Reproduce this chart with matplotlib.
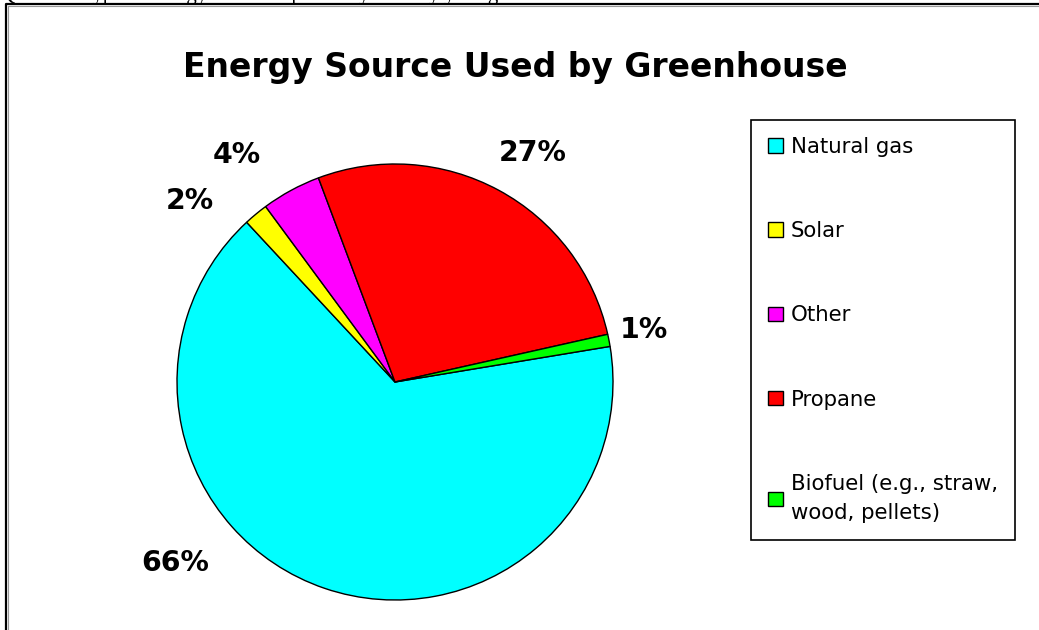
import matplotlib
matplotlib.use('Agg')
import matplotlib.pyplot as plt
from matplotlib.lines import Line2D

# data
sources = ["Natural gas", "Solar", "Other", "Propane",
           "Biofuel (e.g., straw,\nwood, pellets)"]
shares = [65.7, 1.8, 4.4, 27.2, 0.9]
colors = ["#00FFFF", "#FFFF00", "#FF00FF", "#FF0000", "#00FF00"]
title = "Energy Source Used by Greenhouse"
question = "Q3. What type of energy source is primarily used by your greenhouse?"

# label placement (in pie radius units), same order as sources
label_pos = [(-1.01, -0.83), (-0.94, 0.83), (-0.725, 1.04), (0.63, 1.05), (1.14, 0.24)]

W, H = 1039, 630
fig = plt.figure(figsize=(W/100, H/100), dpi=100)

# pie centre / radius in pixels
cx, cy, r = 395, 382, 218
m = 1.02
ax = fig.add_axes([(cx - r*m)/W, (H - cy - r*m)/H, 2*r*m/W, 2*r*m/H])
wedges, texts, autotexts = ax.pie(shares, colors=colors, startangle=9.4,
                                  counterclock=False, autopct='%1.0f%%',
                                  wedgeprops=dict(edgecolor='black', linewidth=1.0))
ax.set_xlim(-m, m)
ax.set_ylim(-m, m)
ax.set_aspect('equal')
for t, (x, y) in zip(autotexts, label_pos):
    t.set_position((x, y))
    t.set_fontsize(20.4)
    t.set_fontweight('bold')
    t.set_ha('center')
    t.set_va('center')

fig.text(515/W, 1 - 77/H, title, ha='center', va='baseline',
         fontsize=23.8, fontweight='bold')

leg = fig.legend(wedges, sources, loc='upper left',
                 bbox_to_anchor=(751/W, 1 - 120/H), fontsize=15.3,
                 fancybox=False, framealpha=1, edgecolor='black',
                 handlelength=0.69, handleheight=0.69, handletextpad=0.37,
                 labelspacing=3.02, borderpad=0.8, borderaxespad=0)
leg.get_frame().set_linewidth(1.2)
for t in leg.get_texts():
    t.set_linespacing(1.6)

# page frame and cut-off question line
fig.add_artist(Line2D([6/W, 6/W, 1], [0, 1 - 4/H, 1 - 4/H], color='black',
                      linewidth=1.6, transform=fig.transFigure))
fig.add_artist(Line2D([8/W, 8/W, 1], [0, 1 - 6/H, 1 - 6/H], color='#999999',
                      linewidth=0.8, transform=fig.transFigure))
fig.text(0, 1.0, question, ha='left', va='baseline', fontsize=15,
         family='Liberation Serif')

plt.savefig("out.png", dpi=100)
